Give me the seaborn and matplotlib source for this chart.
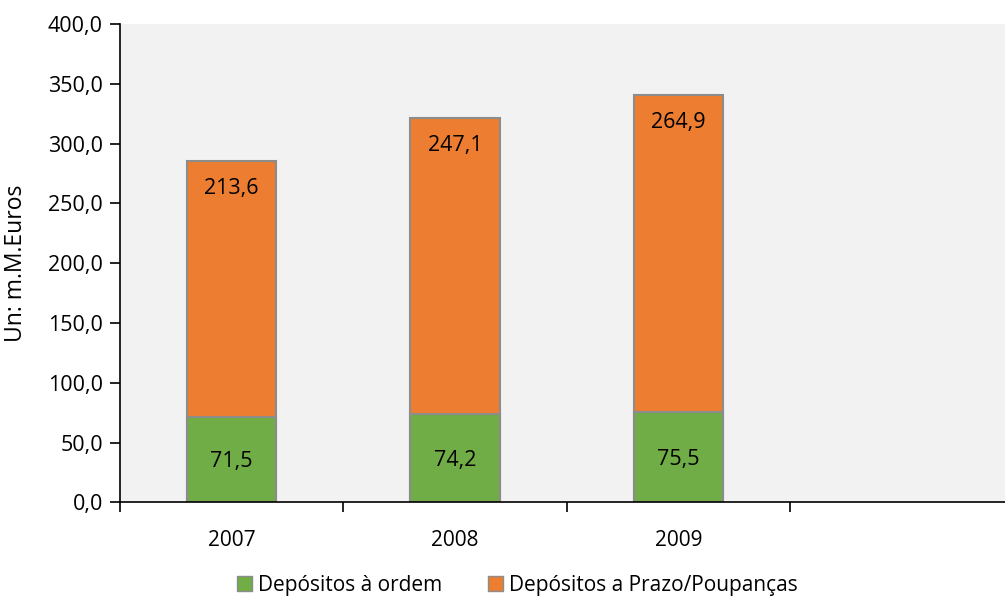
import matplotlib
matplotlib.use("Agg")
import matplotlib.pyplot as plt
import seaborn as sns
import pandas as pd
from matplotlib.patches import Patch
from matplotlib.ticker import FixedLocator, FuncFormatter

# Dados
anos = ["2007", "2008", "2009"]
ordem = [71.5, 74.2, 75.5]
prazo = [213.6, 247.1, 264.9]

df = pd.DataFrame({"ano": anos, "ordem": ordem, "prazo": prazo})
df["total"] = df["ordem"] + df["prazo"]

sns.set_style("white")
plt.rcParams["font.family"] = ["Open Sans", "DejaVu Sans"]
plt.rcParams["text.color"] = "black"
plt.rcParams["axes.labelcolor"] = "black"
plt.rcParams["xtick.color"] = "black"
plt.rcParams["ytick.color"] = "black"

verde = "#70AD47"
laranja = "#ED7D31"
borda = "#8C8C8C"

fig, ax = plt.subplots(figsize=(10.05, 5.98), dpi=100)
fig.subplots_adjust(left=0.119, right=1.0, top=0.96, bottom=0.16)
ax.set_facecolor("#F2F2F2")

ordem_cat = anos + [" "]
# total (laranja) por baixo, depois a parte verde por cima
sns.barplot(data=df, x="ano", y="total", order=ordem_cat, color=laranja,
            width=0.4, edgecolor=borda, linewidth=1.5, saturation=1, ax=ax)
sns.barplot(data=df, x="ano", y="ordem", order=ordem_cat, color=verde,
            width=0.4, edgecolor=borda, linewidth=1.5, saturation=1, ax=ax)

fmt = lambda v: f"{v:.1f}".replace(".", ",")
for i, r in df.iterrows():
    ax.text(i, r["ordem"] / 2 - 2, fmt(r["ordem"]), ha="center", va="center", fontsize=15.5)
    ax.text(i, r["total"] - 23, fmt(r["prazo"]), ha="center", va="center", fontsize=15.5)

ax.set_ylim(0, 400)
ax.set_xlim(-0.5, 3.46)
ax.set_yticks(range(0, 401, 50))
ax.yaxis.set_major_formatter(FuncFormatter(lambda v, p: fmt(v)))
ax.set_xticks(range(3))
ax.set_xticklabels(anos)
ax.xaxis.set_minor_locator(FixedLocator([-0.5, 0.5, 1.5, 2.5]))
ax.tick_params(axis="x", which="major", length=0, pad=20, labelsize=15)
ax.tick_params(axis="x", which="minor", length=7, width=1.2, direction="out", bottom=True)
ax.tick_params(axis="y", length=7, width=1.2, direction="out", left=True, labelsize=15.5, pad=5)

for s in ["top", "right"]:
    ax.spines[s].set_visible(False)
for s in ["left", "bottom"]:
    ax.spines[s].set_color("black")
    ax.spines[s].set_linewidth(1.2)

ax.set_xlabel("")
ax.set_ylabel("Un: m.M.Euros", fontsize=16.5)
ax.yaxis.set_label_coords(-0.104, 0.5)

handles = [Patch(facecolor=verde, edgecolor=borda, label="Depósitos à ordem"),
           Patch(facecolor=laranja, edgecolor=borda, label="Depósitos a Prazo/Poupanças")]
fig.legend(handles=handles, loc="lower center", bbox_to_anchor=(0.515, -0.028), ncol=2,
           frameon=False, fontsize=15, handlelength=0.7, handleheight=0.7,
           handletextpad=0.3, columnspacing=2.2)

fig.savefig("out.png", dpi=100)
